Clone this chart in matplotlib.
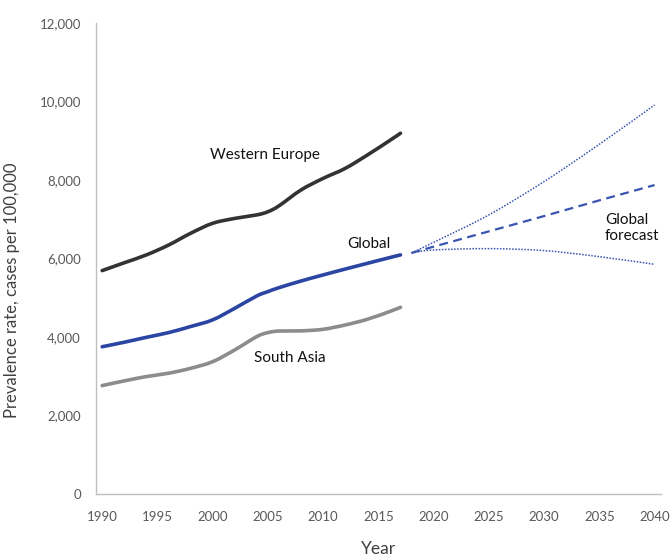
import matplotlib
matplotlib.use("Agg")
import matplotlib.pyplot as plt
from matplotlib.path import Path
from matplotlib.patches import PathPatch

years = [1990, 1992, 1994, 1996, 1998, 2000, 2002, 2004, 2005, 2006, 2008, 2010, 2012, 2014, 2016, 2017]
western_europe = [5690, 5890, 6090, 6340, 6640, 6895, 7020, 7110, 7190, 7340, 7745, 8040, 8295, 8635, 9000, 9190]
global_rate = [3750, 3865, 3990, 4110, 4265, 4435, 4730, 5045, 5155, 5255, 5425, 5580, 5730, 5875, 6020, 6090]
south_asia = [2760, 2880, 2990, 3075, 3200, 3370, 3670, 4010, 4110, 4150, 4155, 4195, 4305, 4450, 4645, 4755]

f_years = [2018, 2020, 2025, 2030, 2035, 2040]
f_central = [6140, 6300, 6690, 7080, 7480, 7870]
f_upper = [6140, 6410, 7110, 7960, 8910, 9910]
f_lower = [6140, 6215, 6250, 6200, 6045, 5850]

x_ticks = list(range(1990, 2041, 5))
y_ticks = list(range(0, 12001, 2000))

plt.rcParams['font.family'] = ['Lato', 'DejaVu Sans']


def smooth_line(ax, xs, ys, **kw):
    """Excel-style smoothed line: Catmull-Rom segments as cubic Bezier in data space."""
    pts = list(zip(xs, ys))
    n = len(pts)
    verts = [pts[0]]
    codes = [Path.MOVETO]
    for i in range(n - 1):
        p0 = pts[i - 1] if i > 0 else pts[i]
        p1 = pts[i]
        p2 = pts[i + 1]
        p3 = pts[i + 2] if i + 2 < n else pts[i + 1]
        c1 = (p1[0] + (p2[0] - p0[0]) / 6.0, p1[1] + (p2[1] - p0[1]) / 6.0)
        c2 = (p2[0] - (p3[0] - p1[0]) / 6.0, p2[1] - (p3[1] - p1[1]) / 6.0)
        verts += [c1, c2, p2]
        codes += [Path.CURVE4, Path.CURVE4, Path.CURVE4]
    patch = PathPatch(Path(verts, codes), fill=False, **kw)
    ax.add_patch(patch)
    return patch


fig = plt.figure(figsize=(6.72, 5.6), dpi=100)
ax = fig.add_axes([0.143, 0.118, 0.841, 0.841])

smooth_line(ax, years, western_europe, edgecolor='#333333', lw=2.6, capstyle='round')
smooth_line(ax, years, global_rate, edgecolor='#2b45a3', lw=2.6, capstyle='round')
smooth_line(ax, years, south_asia, edgecolor='#8c8c8c', lw=2.6, capstyle='round')

smooth_line(ax, f_years, f_central, edgecolor='#3a55b0', lw=1.6, linestyle=(0, (4, 2.5)))
smooth_line(ax, f_years, f_upper, edgecolor='#3a55b0', lw=1.1, linestyle=(0, (1, 1)))
smooth_line(ax, f_years, f_lower, edgecolor='#3a55b0', lw=1.1, linestyle=(0, (1, 1)))

ax.text(2004.7, 8640, 'Western Europe', ha='center', va='center', fontsize=11, color='#111111')
ax.text(2014.1, 6370, 'Global', ha='center', va='center', fontsize=11, color='#111111')
ax.text(2007.0, 3465, 'South Asia', ha='center', va='center', fontsize=11, color='#111111')
ax.text(2035.5, 6780, 'Global\nforecast', ha='left', va='center', fontsize=11, color='#111111', linespacing=1.2)

ax.set_xlim(1989.45, 2040.6)
ax.set_ylim(0, 12000)
ax.set_xticks(x_ticks)
ax.set_yticks(y_ticks)
ax.set_yticklabels([f'{v:,}' for v in y_ticks])
ax.tick_params(length=0, labelsize=9.5, colors='#595959')
ax.tick_params(axis='y', pad=11)
ax.tick_params(axis='x', pad=12)

for s in ['top', 'right']:
    ax.spines[s].set_visible(False)
for s in ['left', 'bottom']:
    ax.spines[s].set_color('#bfbfbf')
    ax.spines[s].set_linewidth(1.0)

ax.set_xlabel('Year', fontsize=12.5, color='#404040')
ax.set_ylabel('Prevalence rate, cases per 100,000', fontsize=12, color='#404040')
ax.xaxis.set_label_coords(0.5, -0.1)
ax.yaxis.set_label_coords(-0.1345, 0.433)

fig.savefig('out.png', dpi=100)
